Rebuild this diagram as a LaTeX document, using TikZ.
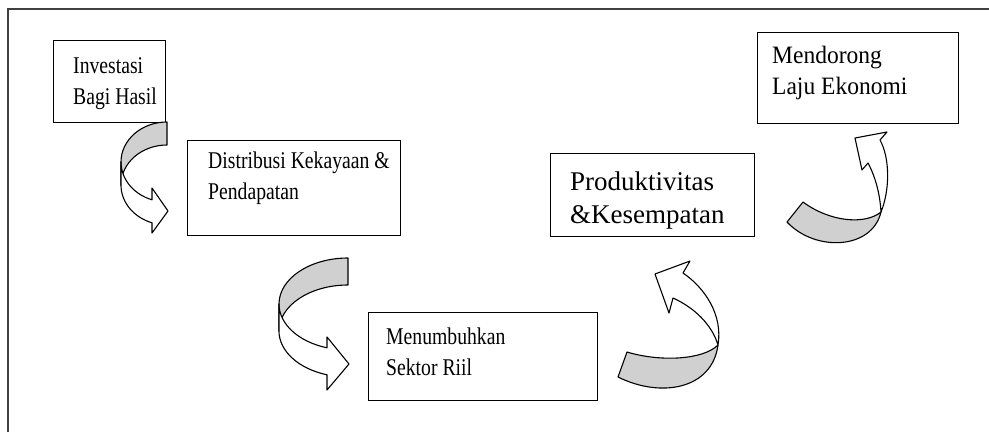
\documentclass[tikz,border=0pt]{standalone}
\usepackage{graphicx}
\usepackage{fontspec}
\setmainfont{Liberation Serif}
\definecolor{ribbon}{RGB}{208,208,208}
\begin{document}
\begin{tikzpicture}
[x=1pt,y=-1pt,
  boxdecorate/.style={draw,line width=1.2pt,anchor=north west,inner sep=0pt},%
  textdecorate/.style={anchor=base west,inner sep=0pt},%
  backdecorate/.style={draw,line width=1.1pt,fill=ribbon,line join=round},%
  frontdecorate/.style={draw,line width=1.1pt,fill=white,line join=round}]
\useasboundingbox (0,0) rectangle (989,432);
%% frame
\draw[line width=1.5pt,black!75] (8,432) -- (8,9) -- (989,9);
%% boxes
\foreach \nodename/\x/\y/\w/\h in {
  inv/53/40/112/82, dist/187/140/213/95, sektor/368/312/229/88,
  prod/550/153/204/83, laju/757/32/201/91}
{
  \node (\nodename) at (\x,\y) [boxdecorate,minimum width=\w pt,minimum height=\h pt] {};
}
%% labels
\foreach \nodename/\dx/\dy/\fs/\fl/\sx/\txt in {
  inv/20/33/24/31/0.82/{Investasi\\Bagi Hasil},
  dist/21/28/24/31/0.82/{Distribusi Kekayaan \&\\Pendapatan},
  sektor/18/32/24/31/0.82/{Menumbuhkan\\Sektor Riil},
  prod/20/37/27/33/1/{Produktivitas\\\&Kesempatan},
  laju/15/31/25/31/0.94/{Mendorong\\Laju Ekonomi}}
{
  \node (\nodename-txt) at ([shift={(\dx,\dy)}]\nodename.north west)
    [textdecorate,font=\fontsize{\fs}{\fl}\selectfont]
    {\scalebox{\sx}[1]{\begin{tabular}[t]{@{}l@{}}\txt\end{tabular}}};
}
%% curved arrows
% investasi -> distribusi
\draw[backdecorate] (167,122) arc[start angle=90,end angle=180,x radius=46pt,y radius=40pt]
  -- (121,185) arc[start angle=180,end angle=90,x radius=46pt,y radius=40pt] -- cycle;
\draw[frontdecorate] (121,162) arc[start angle=180,end angle=251,x radius=46pt,y radius=40pt]
  -- (152,188) -- (168,211) -- (152,233) -- (152,222.8)
  arc[start angle=251,end angle=180,x radius=46pt,y radius=40pt] -- cycle;
% distribusi -> sektor riil
\draw[backdecorate] (348,258) arc[start angle=90,end angle=180,x radius=69pt,y radius=46pt]
  -- (279,331) arc[start angle=180,end angle=90,x radius=69pt,y radius=46pt] -- cycle;
\draw[frontdecorate] (279,304) arc[start angle=180,end angle=252.3,x radius=69pt,y radius=46pt]
  -- (327,337) -- (349,364) -- (327,390) -- (327,374.8)
  arc[start angle=252.3,end angle=180,x radius=69pt,y radius=46pt] -- cycle;
% sektor riil -> produktivitas
\draw[backdecorate] (618,377) .. controls (660,398) and (712,390) .. (718,345)
  .. controls (703,360) and (660,362) .. (627,352) -- cycle;
\draw[frontdecorate] (718,345) .. controls (723,315) and (705,288) .. (683,273)
  -- (690,261) -- (655,274) -- (669,313) -- (673,298)
  .. controls (695,308) and (712,325) .. (718,345) -- cycle;
% produktivitas -> laju ekonomi
\draw[backdecorate] (787,222) .. controls (815,252) and (872,250) .. (881,212)
  .. controls (865,225) and (830,222) .. (803,202) -- cycle;
\draw[frontdecorate] (881,212) .. controls (890,190) and (890,158) .. (880,140)
  -- (887,132) -- (855,138) -- (862,170) -- (868,163)
  .. controls (876,178) and (880,195) .. (881,212) -- cycle;
\end{tikzpicture}
\end{document}
